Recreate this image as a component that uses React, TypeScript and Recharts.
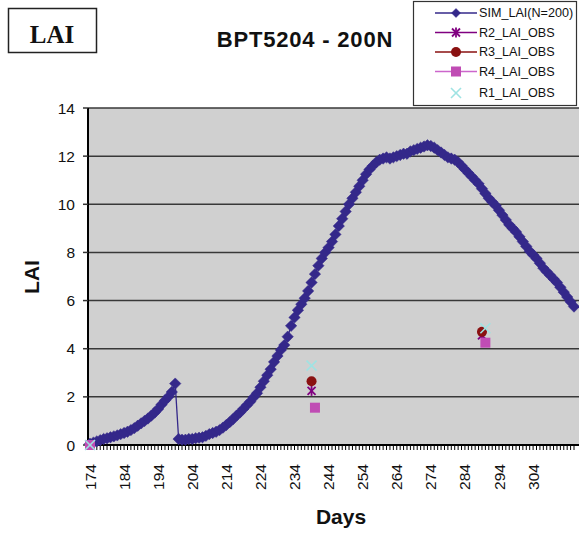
import React from 'react';
import { LineChart, Line, XAxis, YAxis, CartesianGrid } from 'recharts';

// ---------- data ----------
const firstDay = 174;
const simLai: number[] = [
  // 174-199
  0.05, 0.1, 0.15, 0.2, 0.25, 0.28, 0.32, 0.36, 0.4, 0.45, 0.5, 0.55, 0.62, 0.7, 0.8, 0.9,
  1.0, 1.1, 1.22, 1.35, 1.5, 1.68, 1.85, 2.0, 2.2, 2.55,
  // 200-229
  0.25, 0.22, 0.22, 0.25, 0.25, 0.28, 0.3, 0.32, 0.38, 0.45, 0.5, 0.55, 0.62, 0.72, 0.83,
  0.95, 1.08, 1.22, 1.35, 1.5, 1.65, 1.8, 1.98, 2.15, 2.4, 2.65, 2.9, 3.15, 3.45, 3.7,
  // 230-254
  3.95, 4.15, 4.5, 4.95, 5.3, 5.6, 5.85, 6.1, 6.4, 6.75, 7.1, 7.45, 7.75, 8.0, 8.2, 8.45,
  8.75, 9.1, 9.4, 9.7, 10.0, 10.25, 10.5, 10.75, 11.0,
  // 255-275
  11.25, 11.45, 11.6, 11.75, 11.85, 11.9, 11.95, 11.9, 11.95, 12.0, 12.05, 12.1, 12.1, 12.2,
  12.25, 12.3, 12.35, 12.4, 12.45, 12.42, 12.35,
  // 276-316
  12.25, 12.15, 12.05, 11.95, 11.9, 11.85, 11.75, 11.6, 11.45, 11.3, 11.15, 11.0, 10.85,
  10.65, 10.45, 10.25, 10.1, 9.95, 9.75, 9.55, 9.35, 9.15, 9.0, 8.85, 8.65, 8.45, 8.25,
  8.05, 7.9, 7.75, 7.55, 7.35, 7.2, 7.05, 6.9, 6.75, 6.55, 6.35, 6.15, 5.95, 5.75,
];
const days: number[] = simLai.map((_, i) => firstDay + i);

const r2Obs = [
  { day: 174, lai: 0 },
  { day: 239, lai: 2.25 },
  { day: 289, lai: 4.55 },
];
const r3Obs = [
  { day: 174, lai: 0 },
  { day: 239, lai: 2.65 },
  { day: 289, lai: 4.7 },
];
const r4Obs = [
  { day: 174, lai: 0 },
  { day: 240, lai: 1.55 },
  { day: 290, lai: 4.25 },
];
const r1Obs = [
  { day: 174, lai: 0 },
  { day: 239, lai: 3.3 },
  { day: 290, lai: 4.85 },
];

const xTickLabels = [174, 184, 194, 204, 214, 224, 234, 244, 254, 264, 274, 284, 294, 304];
const yTicks = [0, 2, 4, 6, 8, 10, 12, 14];

const findObs = (arr: { day: number; lai: number }[], d: number) => {
  const o = arr.find((e) => e.day === d);
  return o ? o.lai : null;
};

const rows = days.map((d, i) => ({
  day: d,
  sim: simLai[i],
  r2: findObs(r2Obs, d),
  r3: findObs(r3Obs, d),
  r4: findObs(r4Obs, d),
  r1: findObs(r1Obs, d),
}));

// ---------- styles ----------
const SIM_COLOR = '#34288A';
const R2_COLOR = '#800080';
const R3_COLOR = '#8A1111';
const R4_COLOR = '#C04CB4';
const R1_COLOR = '#9FE3E3';
const FONT = '"Liberation Sans", Arial, sans-serif';

type MarkerKind = 'diamond' | 'star' | 'circle' | 'square' | 'x';

const Marker = ({ kind, cx, cy, s = 5.7 }: { kind: MarkerKind; cx: number; cy: number; s?: number }) => {
  switch (kind) {
    case 'diamond':
      return (
        <polygon
          points={`${cx},${cy - s} ${cx + s},${cy} ${cx},${cy + s} ${cx - s},${cy}`}
          fill={SIM_COLOR}
          stroke={SIM_COLOR}
          strokeWidth={0.5}
        />
      );
    case 'star':
      return (
        <g stroke={R2_COLOR} strokeWidth={1.8}>
          <line x1={cx - 4} y1={cy - 4} x2={cx + 4} y2={cy + 4} />
          <line x1={cx - 4} y1={cy + 4} x2={cx + 4} y2={cy - 4} />
          <line x1={cx} y1={cy - 5} x2={cx} y2={cy + 5} />
        </g>
      );
    case 'circle':
      return <circle cx={cx} cy={cy} r={5} fill={R3_COLOR} />;
    case 'square':
      return <rect x={cx - 5} y={cy - 5} width={10} height={10} fill={R4_COLOR} />;
    case 'x':
    default:
      return (
        <g stroke={R1_COLOR} strokeWidth={1.6}>
          <line x1={cx - 5} y1={cy - 5} x2={cx + 5} y2={cy + 5} />
          <line x1={cx - 5} y1={cy + 5} x2={cx + 5} y2={cy - 5} />
        </g>
      );
  }
};

const makeDot = (kind: MarkerKind) => (props: any) => {
  const { cx, cy, value, index } = props;
  if (value == null || cy == null || cx == null || Number.isNaN(cy)) {
    return <g key={`${kind}-${index}`} />;
  }
  return (
    <g key={`${kind}-${index}`}>
      <Marker kind={kind} cx={cx} cy={cy} />
    </g>
  );
};

const XTick = (props: any) => {
  const { x, y, payload } = props;
  if (!xTickLabels.includes(payload.value)) return <g />;
  const ty = y + 12;
  return (
    <text
      x={x}
      y={ty}
      transform={`rotate(-90 ${x} ${ty})`}
      textAnchor="end"
      dominantBaseline="central"
      fontSize={15.5}
      fontFamily={FONT}
      fill="#111"
    >
      {payload.value}
    </text>
  );
};

const legendItems: { label: string; kind: MarkerKind; line: string | null; y: number }[] = [
  { label: 'SIM_LAI(N=200)', kind: 'diamond', line: SIM_COLOR, y: 13 },
  { label: 'R2_LAI_OBS', kind: 'star', line: R2_COLOR, y: 32.5 },
  { label: 'R3_LAI_OBS', kind: 'circle', line: R3_COLOR, y: 52 },
  { label: 'R4_LAI_OBS', kind: 'square', line: '#CC66CC', y: 71.5 },
  { label: 'R1_LAI_OBS', kind: 'x', line: null, y: 93 },
];

export default function App() {
  return (
    <div style={{ position: 'absolute', left: 0, top: 0, width: 579, height: 535, background: '#fff' }}>
      <LineChart
        width={579}
        height={535}
        data={rows}
        margin={{ top: 108, right: 0, bottom: 0, left: 0 }}
      >
        <CartesianGrid
          vertical={false}
          fill="#D0D0D0"
          stroke="#383838"
          strokeWidth={1.5}
          horizontalValues={yTicks}
        />
        <XAxis
          dataKey="day"
          type="category"
          interval={0}
          height={90}
          padding={{ left: 2, right: 5 }}
          axisLine={{ stroke: '#000', strokeWidth: 2 }}
          tickLine={{ stroke: '#000', strokeWidth: 1 }}
          tickSize={5}
          tick={<XTick />}
        />
        <YAxis
          width={88}
          domain={[0, 14]}
          ticks={yTicks}
          type="number"
          axisLine={{ stroke: '#000', strokeWidth: 2 }}
          tickLine={{ stroke: '#333', strokeWidth: 1.5 }}
          tickSize={5}
          tickMargin={8}
          tick={{ fontSize: 15.5, fontFamily: FONT, fill: '#111' }}
        />
        <Line
          dataKey="sim"
          type="linear"
          stroke={SIM_COLOR}
          strokeWidth={1.3}
          dot={makeDot('diamond')}
          activeDot={false}
          isAnimationActive={false}
        />
        <Line dataKey="r2" stroke="none" dot={makeDot('star')} activeDot={false} isAnimationActive={false} />
        <Line dataKey="r3" stroke="none" dot={makeDot('circle')} activeDot={false} isAnimationActive={false} />
        <Line dataKey="r4" stroke="none" dot={makeDot('square')} activeDot={false} isAnimationActive={false} />
        <Line dataKey="r1" stroke="none" dot={makeDot('x')} activeDot={false} isAnimationActive={false} />
      </LineChart>

      <svg
        width={579}
        height={535}
        style={{ position: 'absolute', left: 0, top: 0, pointerEvents: 'none' }}
      >
        {/* LAI box */}
        <rect x={8.5} y={8.5} width={88} height={44} fill="#fff" stroke="#222" strokeWidth={1.5} />
        <text
          x={52}
          y={42.5}
          textAnchor="middle"
          fontSize={25}
          fontWeight="bold"
          fontFamily='"Liberation Serif", "Times New Roman", serif'
          fill="#111"
        >
          LAI
        </text>

        {/* Title */}
        <text
          x={305}
          y={46.5}
          textAnchor="middle"
          fontSize={22}
          fontWeight="bold"
          fontFamily={FONT}
          letterSpacing={0.8}
          fill="#111"
        >
          BPT5204 - 200N
        </text>

        {/* Legend */}
        <rect x={413.5} y={1.5} width={163} height={104} fill="#fff" stroke="#333" strokeWidth={1.2} />
        {legendItems.map((it) => (
          <g key={it.label}>
            {it.line && (
              <line x1={435} y1={it.y} x2={477} y2={it.y} stroke={it.line} strokeWidth={1.5} />
            )}
            <Marker kind={it.kind} cx={456} cy={it.y} s={4.5} />
            <text
              x={479}
              y={it.y}
              dominantBaseline="central"
              fontSize={12.6}
              fontFamily={FONT}
              fill="#111"
            >
              {it.label}
            </text>
          </g>
        ))}

        {/* Axis titles */}
        <text
          x={31}
          y={277}
          transform="rotate(-90 31 277)"
          textAnchor="middle"
          dominantBaseline="central"
          fontSize={21}
          fontWeight="bold"
          fontFamily={FONT}
          fill="#111"
        >
          LAI
        </text>
        <text
          x={341}
          y={524}
          textAnchor="middle"
          fontSize={21}
          fontWeight="bold"
          fontFamily={FONT}
          fill="#111"
        >
          Days
        </text>
      </svg>
    </div>
  );
}
